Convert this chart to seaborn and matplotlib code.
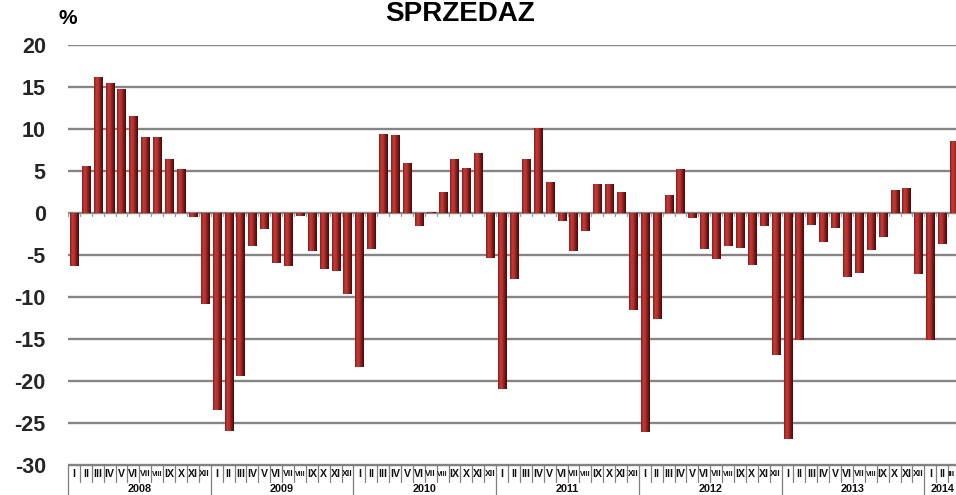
import numpy as np
import pandas as pd
import matplotlib
matplotlib.use("Agg")
import matplotlib.pyplot as plt
import matplotlib.transforms as mtransforms
from matplotlib.colors import LinearSegmentedColormap
import seaborn as sns

# Monthly sales change, % (year-on-year)
years = [2008, 2009, 2010, 2011, 2012, 2013, 2014]
months = ["I", "II", "III", "IV", "V", "VI", "VII", "VIII", "IX", "X", "XI", "XII"]

sprzedaz_2008 = [-6.3, 5.6, 16.2, 15.5, 14.8, 11.6, 9.0, 9.0, 6.4, 5.2, -0.5, -10.8]
sprzedaz_2009 = [-23.5, -26.0, -19.4, -3.9, -1.9, -5.9, -6.3, -0.3, -4.5, -6.7, -6.9, -9.7]
sprzedaz_2010 = [-18.3, -4.3, 9.4, 9.3, 6.0, -1.6, 0.1, 2.5, 6.4, 5.3, 7.1, -5.4]
sprzedaz_2011 = [-20.9, -7.9, 6.4, 10.1, 3.7, -0.9, -4.5, -2.2, 3.5, 3.4, 2.5, -11.5]
sprzedaz_2012 = [-26.1, -12.6, 2.2, 5.2, -0.6, -4.3, -5.5, -3.9, -4.2, -6.2, -1.6, -16.9]
sprzedaz_2013 = [-26.9, -15.1, -1.4, -3.4, -1.8, -7.6, -7.1, -4.4, -2.9, 2.7, 3.0, -7.3]
sprzedaz_2014 = [-15.1, -3.7, 8.6]

values = (sprzedaz_2008 + sprzedaz_2009 + sprzedaz_2010 + sprzedaz_2011
          + sprzedaz_2012 + sprzedaz_2013 + sprzedaz_2014)
periods = [(y, m) for y in years for m in months][:len(values)]
df = pd.DataFrame({
    "okres": [f"{y}-{m}" for y, m in periods],
    "miesiac": [m for _, m in periods],
    "rok": [y for y, _ in periods],
    "zmiana": values,
})

sns.set_style("white")
plt.rcParams["font.family"] = ["Liberation Sans", "DejaVu Sans"]
plt.rcParams["font.weight"] = "bold"
plt.rcParams["axes.unicode_minus"] = False

W, H = 956, 495
fig = plt.figure(figsize=(W / 100, H / 100), dpi=100)
ax_left, ax_right, ax_top, ax_bottom = 68, 960, 45, 465
ax = fig.add_axes([ax_left / W, (H - ax_bottom) / H,
                   (ax_right - ax_left) / W, (ax_bottom - ax_top) / H])

sns.barplot(data=df, x="okres", y="zmiana", order=df["okres"], color="#A3282A",
            saturation=1, width=0.68, linewidth=0, ax=ax, zorder=3)

# cylinder-like shading across each bar
shade = LinearSegmentedColormap.from_list(
    "shade", [(0.0, "#8A1C1C"), (0.28, "#C63D38"), (0.5, "#B1302D"),
              (0.78, "#741616"), (1.0, "#4A0A0A")])
grad = shade(np.linspace(0, 1, 64))[None, :, :3]
for p in list(ax.patches):
    bb = p.get_bbox()
    x0, x1 = sorted([bb.x0, bb.x1])
    y0, y1 = sorted([bb.y0, bb.y1])
    if y1 - y0 <= 0:
        continue
    im = ax.imshow(grad, extent=(x0, x1, y0, y1), aspect="auto",
                   interpolation="bilinear", zorder=3.5)
    im.set_clip_path(p)

n = len(values)
ax.set_xlim(-0.5, n - 0.5)
ax.set_ylim(-30, 20)
ax.set_aspect("auto")

# horizontal gridlines
ax.set_yticks(np.arange(-30, 21, 5))
ax.yaxis.grid(True, color="#858585", linewidth=1.7, zorder=1)
ax.set_axisbelow(True)
ax.tick_params(axis="y", length=0, pad=16, labelsize=15.5)
for t in ax.get_yticklabels():
    t.set_fontweight("bold")
ax.set_xticks([])
ax.set_xlabel("")
ax.set_ylabel("")
for s in ax.spines.values():
    s.set_visible(False)

# small marks under the zero line between months
for b in range(n + 1):
    ax.plot([b - 0.5, b - 0.5], [0, -0.38], color="#9A9A9A", lw=0.9, zorder=2)

# two-level category axis: months and years
trans = mtransforms.blended_transform_factory(ax.transData, ax.transAxes)
ax_h = ax_bottom - ax_top
month_drop = -17 / ax_h
year_drop = -40 / ax_h
for b in range(n + 1):
    x = b - 0.5
    drop = year_drop if b % 12 == 0 else month_drop
    ax.plot([x, x], [0, drop], transform=trans, color="#7F7F7F", lw=0.9,
            clip_on=False, zorder=2)
ax.plot([-0.5, n - 0.5], [0, 0], transform=trans, color="#7F7F7F", lw=1.0,
        clip_on=False, zorder=2)

month_texts = []
for i, m in enumerate(df["miesiac"]):
    t = ax.text(i, -9 / ax_h, m, transform=trans, ha="center", va="center",
                fontsize=7.6, fontweight="bold", color="#111111", clip_on=False)
    month_texts.append(t)
for y in years:
    idx = df.index[df["rok"] == y]
    if len(idx) == 0:
        continue
    xc = (idx.min() + idx.max()) / 2
    ax.text(xc, -24 / ax_h, str(y), transform=trans, ha="center", va="center",
            fontsize=7.8, fontweight="bold", color="#111111", clip_on=False)

# shrink the wider month numerals so each stays inside its cell,
# and keep the last one inside the canvas
renderer = fig.canvas.get_renderer()
cell_px = (ax_right - ax_left) / n - 1.2
for t in month_texts:
    w = t.get_window_extent(renderer).width
    if w > cell_px:
        t.set_fontsize(t.get_fontsize() * cell_px / w)
for t in month_texts:
    ext = t.get_window_extent(renderer)
    if ext.x1 > W - 1:
        t.set_fontsize(t.get_fontsize() * 0.8)
        t.set_horizontalalignment("right")
        x_right = ax.transData.inverted().transform((W - 1.5, 0))[0]
        t.set_x(x_right)

# unit and title
fig.text(68 / W, 1 - 19 / H, "%", ha="center", va="center",
         fontsize=15, fontweight="bold", color="black")
fig.text(460 / W, 1 - 21 / H, "SPRZEDAŻ", ha="center", va="baseline",
         fontsize=20, fontweight="bold", color="black")

fig.savefig("out.png", dpi=100)
